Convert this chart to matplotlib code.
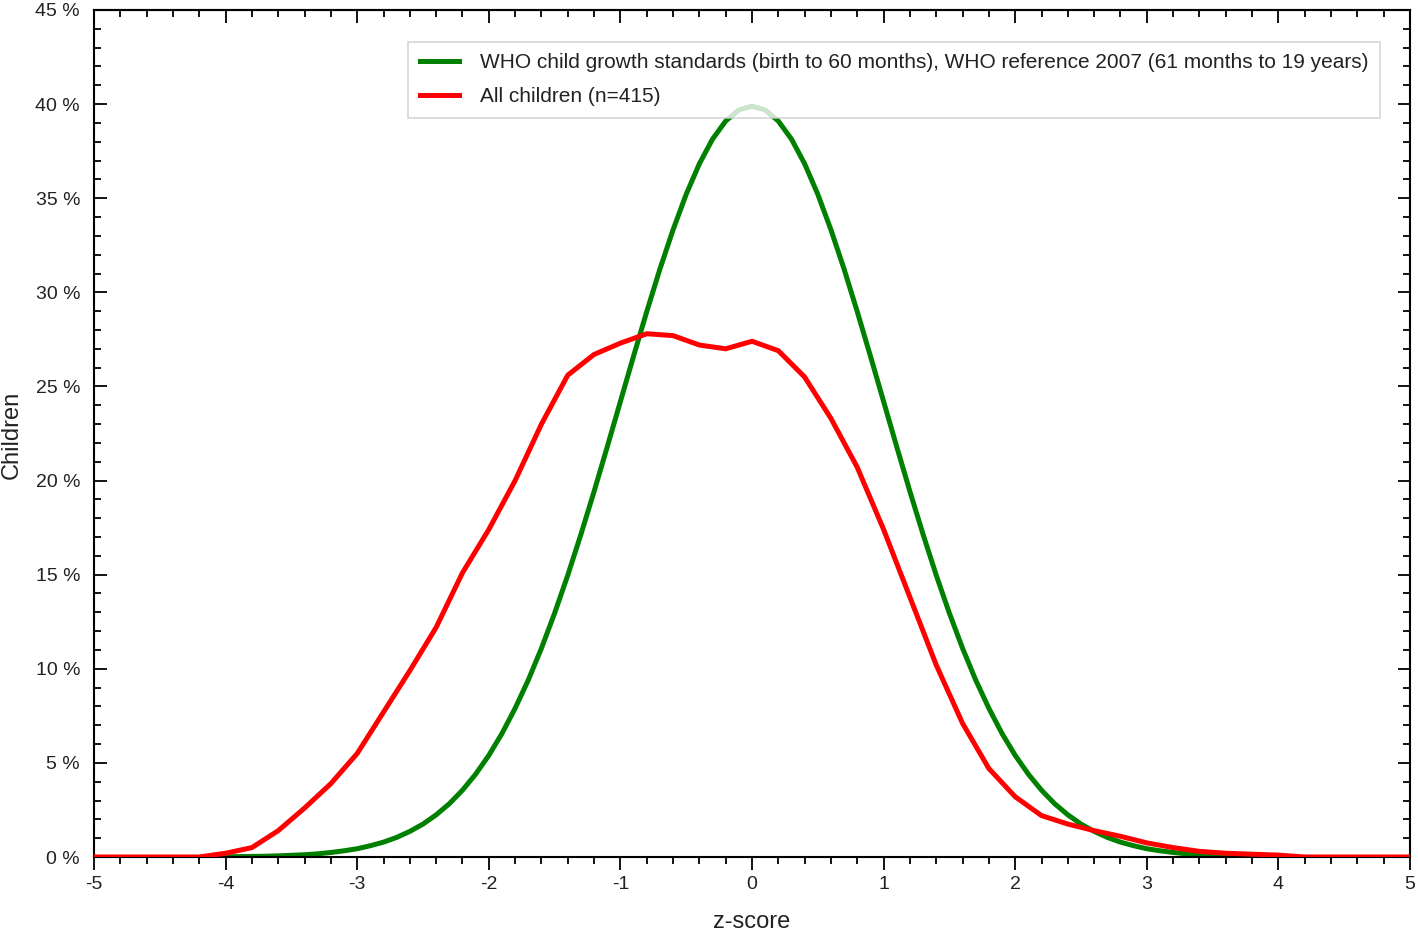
import matplotlib
matplotlib.use("Agg")
import matplotlib.pyplot as plt
from matplotlib.ticker import MultipleLocator, FuncFormatter

plt.rcParams['font.family'] = ['Liberation Sans', 'DejaVu Sans']

# WHO reference curve, read at 0.1 z steps
who_z = [round(-4.0 + 0.1 * i, 1) for i in range(81)]
who_pct = [0.01, 0.02, 0.03, 0.04, 0.06, 0.09, 0.12, 0.17, 0.24, 0.33,
           0.44, 0.60, 0.79, 1.04, 1.36, 1.75, 2.24, 2.83, 3.55, 4.40,
           5.40, 6.56, 7.90, 9.40, 11.09, 12.95, 14.97, 17.14, 19.42, 21.79,
           24.20, 26.61, 28.97, 31.23, 33.32, 35.21, 36.83, 38.14, 39.10, 39.69,
           39.89,
           39.69, 39.10, 38.14, 36.83, 35.21, 33.32, 31.23, 28.97, 26.61, 24.20,
           21.79, 19.42, 17.14, 14.97, 12.95, 11.09, 9.40, 7.90, 6.56, 5.40,
           4.40, 3.55, 2.83, 2.24, 1.75, 1.36, 1.04, 0.79, 0.60, 0.44,
           0.33, 0.24, 0.17, 0.12, 0.09, 0.06, 0.04, 0.03, 0.02, 0.01]

# survey sample, 0.2 z steps from -5 to 5
kids_z = [round(-5.0 + 0.2 * i, 1) for i in range(51)]
kids_pct = [0, 0, 0, 0, 0, 0.2, 0.5, 1.4, 2.6, 3.9,
            5.5, 7.7, 9.9, 12.2, 15.1, 17.4, 20.0, 23.0, 25.6, 26.7,
            27.3, 27.8, 27.7, 27.2, 27.0, 27.4, 26.9, 25.5, 23.3, 20.7,
            17.4, 13.8, 10.2, 7.1, 4.7, 3.2, 2.2, 1.75, 1.4, 1.1,
            0.75, 0.5, 0.3, 0.2, 0.15, 0.1, 0, 0, 0, 0, 0]

W, H = 1418, 935
fig = plt.figure(figsize=(W / 100, H / 100), dpi=100)
ax = fig.add_axes([94 / W, 1 - 857 / H, 1316 / W, 847 / H])

ax.plot(kids_z, kids_pct, color='#ff0000', lw=3.6, solid_joinstyle='round',
        label='All children (n=415)', zorder=3)
ax.plot(who_z, who_pct, color='#008000', lw=3.6,
        label='WHO child growth standards (birth to 60 months), WHO reference 2007 (61 months to 19 years)',
        zorder=2)

ax.set_xlim(-5, 5)
ax.set_ylim(0, 45)
ax.xaxis.set_major_locator(MultipleLocator(1))
ax.xaxis.set_minor_locator(MultipleLocator(0.2))
ax.yaxis.set_major_locator(MultipleLocator(5))
ax.yaxis.set_minor_locator(MultipleLocator(1))
ax.yaxis.set_major_formatter(FuncFormatter(lambda v, p: f"{v:.0f} %"))
ax.xaxis.set_major_formatter(FuncFormatter(lambda v, p: f"{v:.0f}"))

ax.tick_params(axis='x', which='both', direction='out', top=False, labelsize=14)
ax.tick_params(axis='y', which='both', direction='in', right=True, labelsize=14)
ax.tick_params(which='major', length=9, width=1.3, labelcolor='#222222')
ax.tick_params(which='minor', length=5, width=1.3)
ax.tick_params(axis='x', which='major', pad=5)
ax.tick_params(axis='y', which='major', pad=10)
sec = ax.secondary_xaxis('top')
sec.xaxis.set_major_locator(MultipleLocator(1))
sec.xaxis.set_minor_locator(MultipleLocator(0.2))
sec.tick_params(which='both', direction='in', labeltop=False, width=1.3)
sec.tick_params(which='major', length=9)
sec.tick_params(which='minor', length=5)

for s in ax.spines.values():
    s.set_linewidth(1.5)
sec.spines['top'].set_linewidth(1.5)

ax.set_xlabel('z-score', fontsize=17, color='#222222', va='center')
ax.xaxis.set_label_coords(0.5, -(922 - 857) / 847)
ax.set_ylabel('Children', fontsize=17, color='#222222', va='center')
ax.yaxis.set_label_coords(-(94 - 12) / 1316, (857 - 435) / 847)

handles, labels = ax.get_legend_handles_labels()
leg = ax.legend(handles[::-1], labels[::-1], loc='upper right',
                bbox_to_anchor=((1380 - 94) / 1316, 1 - (42 - 10) / 847), fontsize=15,
                frameon=True, fancybox=False, edgecolor='#cccccc',
                handlelength=1.9, handletextpad=1.0, borderpad=0.55,
                labelspacing=0.7, borderaxespad=0)
leg.get_frame().set_linewidth(1.2)
for t in leg.get_texts():
    t.set_color('#222222')

fig.savefig('out.png', dpi=100)
